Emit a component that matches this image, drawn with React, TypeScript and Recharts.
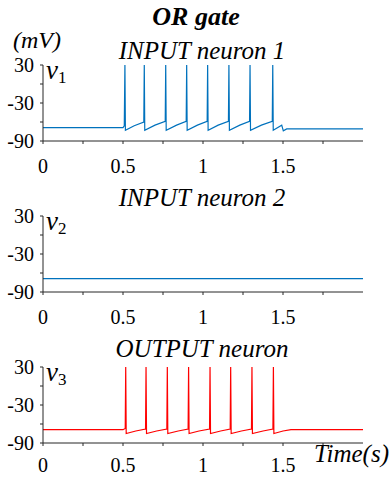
import React from 'react';
import { LineChart, Line, XAxis, YAxis } from 'recharts';

// Input neuron 1 membrane potential (time in s, voltage in mV)
const n1Time = [0, 0.5, 0.508, 0.512, 0.515, 0.57, 0.63, 0.633, 0.636, 0.7, 0.764, 0.767, 0.77, 0.835, 0.895, 0.898, 0.901, 0.965, 1.026, 1.029, 1.032, 1.095, 1.159, 1.162, 1.165, 1.23, 1.291, 1.294, 1.297, 1.365, 1.433, 1.436, 1.439, 1.492, 1.502, 1.523, 2.0];
const n1Volt = [-69, -69, -66, 30, -73, -66, -60, 30, -73, -65, -59, 30, -73, -65, -59, 30, -73, -65, -59, 30, -73, -65, -59, 30, -73, -65, -59, 30, -73, -65, -59, 30, -73, -65, -74, -71, -71];

// Input neuron 2 (silent)
const n2Time = [0, 2.0];
const n2Volt = [-69, -69];

// Output neuron
const n3Time = [0, 0.5, 0.514, 0.517, 0.52, 0.58, 0.641, 0.644, 0.647, 0.71, 0.774, 0.777, 0.78, 0.845, 0.907, 0.91, 0.913, 0.975, 1.041, 1.044, 1.047, 1.11, 1.17, 1.173, 1.176, 1.24, 1.303, 1.306, 1.309, 1.375, 1.437, 1.44, 1.443, 1.5, 1.55, 2.0];
const n3Volt = [-69, -69, -67, 30, -75, -71, -68, 30, -75, -71, -68, 30, -75, -71, -68, 30, -75, -71, -68, 30, -75, -71, -68, 30, -75, -71, -68, 30, -75, -71, -68, 30, -75, -71, -69, -69];

const xTicks = [0, 0.25, 0.5, 0.75, 1, 1.25, 1.5, 1.75];
const xLabeled = [0, 0.5, 1, 1.5];
const yTicks = [-90, -60, -30, 0, 30];
const yLabeled = [-90, -30, 30];

const panelTitles = ['INPUT neuron 1', 'INPUT neuron 2', 'OUTPUT neuron'];
const varNames = ['v', 'v', 'v'];
const varSubs = ['1', '2', '3'];

const toRows = (t: number[], v: number[]) => t.map((x, i) => ({ t: x, v: v[i] }));

const AXIS = '#262626';
const FONT = 'Liberation Serif, DejaVu Serif, serif';

function Panel({ rows, color, plotTop, plotBottom, xh, tm }: { rows: { t: number; v: number }[]; color: string; plotTop: number; plotBottom: number; xh: number; tm: number }) {
  return (
    <div style={{ position: 'absolute', left: 0, top: 0 }}>
      <LineChart width={390} height={plotBottom + xh} data={rows} margin={{ top: plotTop, right: 27, bottom: 0, left: 0 }}>
        <XAxis
          dataKey="t"
          type="number"
          domain={[0, 2]}
          ticks={xTicks}
          interval={0}
          tickFormatter={(val: number) => (xLabeled.includes(val) ? String(val) : '')}
          tickSize={3}
          tickMargin={tm}
          height={xh}
          stroke={AXIS}
          tick={{ fill: '#000', fontSize: 20, fontFamily: FONT }}
        />
        <YAxis
          type="number"
          domain={[-90, 30]}
          ticks={yTicks}
          interval={0}
          tickFormatter={(val: number) => (yLabeled.includes(val) ? (val < 0 ? '-' + Math.abs(val) : String(val)) : '')}
          tickSize={3}
          tickMargin={6}
          width={43}
          stroke={AXIS}
          tick={{ fill: '#000', fontSize: 20, fontFamily: FONT }}
        />
        <Line dataKey="v" stroke={color} strokeWidth={1.2} dot={false} isAnimationActive={false} type="linear" />
      </LineChart>
    </div>
  );
}

export default function App() {
  const tops = [65, 216, 367];
  const bottoms = [141, 292, 443];
  const titleY = [59, 206, 357];
  return (
    <div style={{ position: 'absolute', left: 0, top: 0, width: 390, height: 477, background: '#fff', overflow: 'hidden', fontFamily: FONT }}>
      <Panel rows={toRows(n1Time, n1Volt)} color="#0072BD" plotTop={tops[0]} plotBottom={bottoms[0]} xh={42} tm={15} />
      <Panel rows={toRows(n2Time, n2Volt)} color="#0072BD" plotTop={tops[1]} plotBottom={bottoms[1]} xh={42} tm={15} />
      <Panel rows={toRows(n3Time, n3Volt)} color="#FF0000" plotTop={tops[2]} plotBottom={bottoms[2]} xh={34} tm={12} />
      <svg width={390} height={477} style={{ position: 'absolute', left: 0, top: 0, pointerEvents: 'none' }}>
        <text x={196} y={25} textAnchor="middle" fontSize={26} fontWeight="bold" fontStyle="italic" fontFamily={FONT} fill="#000">OR gate</text>
        <text x={13} y={48} fontSize={24} fontStyle="italic" fontFamily={FONT} fill="#000">(mV)</text>
        {panelTitles.map((s, i) => (
          <text key={s} x={202} y={titleY[i]} textAnchor="middle" fontSize={25} fontStyle="italic" fontFamily={FONT} fill="#000">{s}</text>
        ))}
        {varNames.map((s, i) => (
          <text key={i} x={46} y={tops[i] + 14} fontFamily={FONT} fill="#000">
            <tspan fontSize={27} fontStyle="italic">{s}</tspan>
            <tspan fontSize={17} dy={4}>{varSubs[i]}</tspan>
          </text>
        ))}
        <text x={389} y={462} textAnchor="end" fontSize={25} fontStyle="italic" fontFamily={FONT} fill="#000">Time(s)</text>
      </svg>
    </div>
  );
}
